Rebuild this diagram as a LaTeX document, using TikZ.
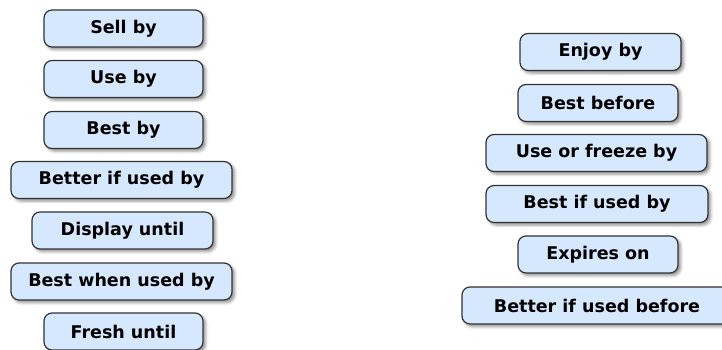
\documentclass[tikz,border=0pt]{standalone}
\usepackage{fontspec}
\setmainfont{DejaVu Sans}
\usetikzlibrary{shadows.blur}
\definecolor{boxblue}{HTML}{D6E8FD}
\definecolor{boxline}{HTML}{333333}
\begin{document}
\begin{tikzpicture}[x=1pt,y=-1pt,
  tag/.style={draw=boxline, line width=1.2pt, fill=boxblue, rounded corners=8pt,
    minimum height=37pt, inner sep=0pt, text=black,
    font=\fontsize{17.5}{20}\selectfont\bfseries,
    blur shadow={shadow xshift=2.5pt, shadow yshift=-2.5pt, shadow blur radius=3pt, shadow opacity=45}}
]
\useasboundingbox (0,0) rectangle (722,350);
\clip (0,0) rectangle (722,350);
% left column
\node[tag, minimum width=159pt] (sell) at (123.5,28.5) {Sell by};
\node[tag, minimum width=159pt] (use) at (123.5,79) {Use by};
\node[tag, minimum width=159pt] (best) at (123.5,130) {Best by};
\node[tag, minimum width=221pt] (better) at (121.5,180) {Better if used by};
\node[tag, minimum width=181pt] (display) at (122.5,230.5) {Display until};
\node[tag, minimum width=221pt] (bestwhen) at (121.5,281.5) {Best when used by};
\node[tag, minimum width=159pt] (fresh) at (123.5,331.5) {Fresh until};
% right column
\node[tag, minimum width=161pt] (enjoy) at (600.5,52) {Enjoy by};
\node[tag, minimum width=160pt] (bestbefore) at (598,103) {Best before};
\node[tag, minimum width=221pt] (freeze) at (596.5,153) {Use or freeze by};
\node[tag, minimum width=222pt] (bestif) at (597,204) {Best if used by};
\node[tag, minimum width=160pt] (expires) at (598,254.5) {Expires on};
\node[tag, minimum width=270pt] (betterbefore) at (597,305.5) {Better if used before};
\end{tikzpicture}
\end{document}
